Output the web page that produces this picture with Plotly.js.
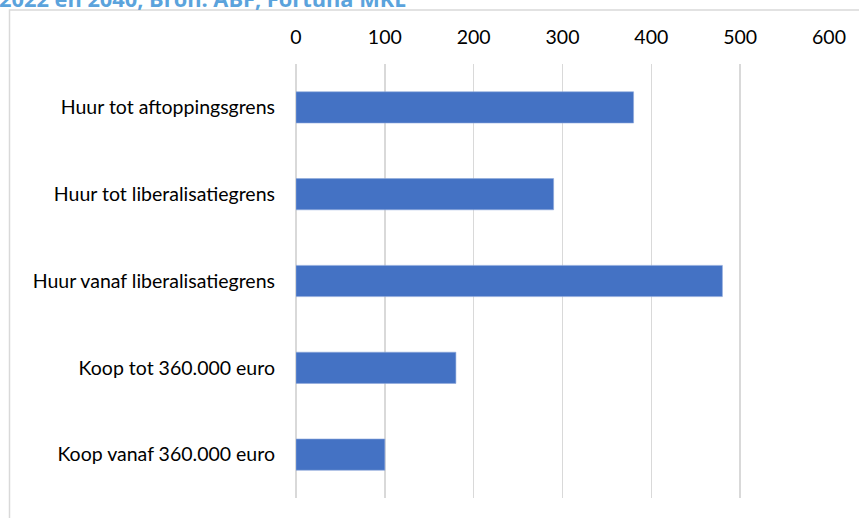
<!DOCTYPE html>
<html>
<head>
<meta charset="utf-8">
<script src="https://cdn.plot.ly/plotly-3.0.1.min.js"></script>
<style>html,body{margin:0;padding:0;background:#fff;}#chart{width:859px;height:518px;}</style>
</head>
<body>
<div id="chart"></div>
<script>
var categories = ["Huur tot aftoppingsgrens", "Huur tot liberalisatiegrens", "Huur vanaf liberalisatiegrens", "Koop tot 360.000 euro", "Koop vanaf 360.000 euro"];
var values = [380, 290, 480, 180, 100];
var tickValues = [0, 100, 200, 300, 400, 500, 600];
var headerText = "2022 en 2040; Bron: ABF, Fortuna MKE";

var W = 859, H = 518;
var L = 296, R = 30, T = 63.5, B = 19.5;
var plotH = H - T - B, plotW = W - L - R;

var trace = {
  type: 'bar',
  orientation: 'h',
  y: categories,
  x: values,
  width: 0.36,
  marker: {color: '#4472C4', line: {color: '#8EA9DB', width: 0.6}},
  hoverinfo: 'skip'
};

var layout = {
  width: W, height: H,
  margin: {l: L, r: R, t: T, b: B, pad: 0},
  paper_bgcolor: '#ffffff',
  plot_bgcolor: '#ffffff',
  showlegend: false,
  font: {family: 'Lato, "Open Sans", sans-serif', size: 19.5, color: '#000000'},
  xaxis: {
    side: 'top',
    range: [0, 600],
    tickvals: tickValues,
    ticktext: tickValues.map(String),
    showgrid: true,
    gridcolor: '#d9d9d9',
    gridwidth: 1.5,
    zeroline: true,
    zerolinecolor: '#d9d9d9',
    zerolinewidth: 1.5,
    showline: false,
    ticks: '',
    ticklabelstandoff: 15,
    tickfont: {size: 19.5, color: '#000'},
    fixedrange: true
  },
  yaxis: {
    autorange: 'reversed',
    type: 'category',
    showgrid: false,
    zeroline: false,
    showline: false,
    ticks: '',
    ticklabelstandoff: 20,
    tickfont: {size: 19.5, color: '#000'},
    fixedrange: true
  },
  shapes: [{
    type: 'rect',
    xref: 'paper', yref: 'paper',
    x0: (9.5 - L) / plotW, x1: (W + 20 - L) / plotW,
    y0: -(B + 20) / plotH, y1: 1 + (T - 9.5) / plotH,
    line: {color: '#d9d9d9', width: 1.5},
    fillcolor: 'rgba(0,0,0,0)',
    layer: 'below'
  }],
  annotations: [{
    text: '<b>' + headerText + '</b>',
    xref: 'paper', yref: 'paper',
    x: (-3 - L) / plotW, xanchor: 'left',
    y: 1 + (T + 2.5) / plotH, yanchor: 'middle',
    showarrow: false,
    font: {family: '"Open Sans", Lato, sans-serif', size: 21.8, color: '#5BA3DC'}
  }]
};

Plotly.newPlot('chart', [trace], layout, {staticPlot: true, displayModeBar: false});
</script>
</body>
</html>
